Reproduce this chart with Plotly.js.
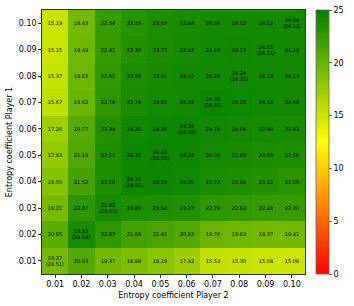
<!DOCTYPE html>
<html>
<head>
<meta charset="utf-8">
<script src="https://cdn.plot.ly/plotly-3.0.1.min.js"></script>
<style>html,body{margin:0;padding:0;background:#fff;}#chart{width:354px;height:306px;}</style>
</head>
<body>
<div id="chart"></div>
<script>
// Column categories (Entropy coefficient Player 2)
const player2 = ['0.01','0.02','0.03','0.04','0.05','0.06','0.07','0.08','0.09','0.10'];
// Row categories (Entropy coefficient Player 1), bottom to top
const player1 = ['0.01','0.02','0.03','0.04','0.05','0.06','0.07','0.08','0.09','0.10'];

// Mean values, one array per Player 1 row
const row001 = [19.27, 20.93, 19.37, 18.88, 18.18, 17.42, 15.53, 15.30, 15.08, 15.06];
const row002 = [20.65, 23.83, 22.87, 21.68, 21.41, 20.93, 19.76, 19.63, 19.37, 19.41];
const row003 = [19.21, 22.87, 23.92, 23.60, 23.54, 23.37, 22.78, 22.62, 22.40, 22.30];
const row004 = [18.50, 21.52, 23.58, 24.31, 24.35, 24.20, 23.72, 23.48, 23.22, 23.05];
const row005 = [17.83, 21.14, 23.51, 24.35, 24.42, 24.34, 24.03, 23.89, 23.69, 23.56];
const row006 = [17.26, 20.77, 23.34, 24.20, 24.35, 24.32, 24.18, 24.08, 23.90, 23.83];
const row007 = [15.67, 19.82, 22.76, 23.74, 24.05, 24.19, 24.30, 24.25, 24.16, 24.09];
const row008 = [15.37, 19.63, 22.65, 23.58, 23.91, 24.10, 24.24, 24.24, 24.19, 24.13];
const row009 = [15.15, 19.49, 22.41, 23.30, 23.72, 23.93, 24.15, 24.17, 24.15, 24.12];
const row010 = [15.19, 19.43, 22.34, 23.16, 23.60, 23.84, 24.08, 24.13, 24.12, 24.09];

// Best values shown in parentheses (null = none)
const best001 = [24.51, null, null, null, null, null, null, null, null, null];
const best002 = [null, 24.54, null, null, null, null, null, null, null, null];
const best003 = [null, null, 24.53, null, null, null, null, null, null, null];
const best004 = [null, null, null, 24.51, null, null, null, null, null, null];
const best005 = [null, null, null, null, 24.50, null, null, null, null, null];
const best006 = [null, null, null, null, null, 24.45, null, null, null, null];
const best007 = [null, null, null, null, null, null, 24.31, null, null, null];
const best008 = [null, null, null, null, null, null, null, 24.25, null, null];
const best009 = [null, null, null, null, null, null, null, null, 24.21, null];
const best010 = [null, null, null, null, null, null, null, null, null, 24.12];

const colorTicks = [0, 5, 10, 15, 20, 25];

const z = [row001,row002,row003,row004,row005,row006,row007,row008,row009,row010];
const best = [best001,best002,best003,best004,best005,best006,best007,best008,best009,best010];
const text = z.map((r,i)=>r.map((v,j)=>{
  const b = best[i][j];
  return b===null ? v.toFixed(2) : v.toFixed(2)+'<br>('+b.toFixed(2)+')';
}));

const font = 'DejaVu Sans, sans-serif';

const trace = {
  type: 'heatmap',
  x: player2, y: player1, z: z,
  text: text, texttemplate: '%{text}',
  textfont: {family: font, size: 5, color: '#000'},
  zmin: 0, zmax: 25,
  colorscale: [[0,'#ff0000'],[0.5,'#ffff00'],[1,'#008000']],
  xgap: 0, ygap: 0,
  hoverinfo: 'skip',
  colorbar: {
    x: 1.04, xanchor: 'left', xpad: 0, ypad: 0,
    y: 0.5, yanchor: 'middle', len: 1, lenmode: 'fraction',
    thickness: 13, outlinewidth: 0.8, outlinecolor: '#666',
    tickvals: colorTicks, ticks: 'outside', ticklen: 3, tickwidth: 0.8,
    tickfont: {family: font, size: 8, color: '#000'}
  }
};

const layout = {
  width: 354, height: 306,
  margin: {l: 42, r: 47, t: 10, b: 32},
  paper_bgcolor: '#fff', plot_bgcolor: '#fff',
  font: {family: font, color: '#000'},
  xaxis: {
    type: 'category', tickvals: player2, ticktext: player2,
    ticks: 'outside', ticklen: 3, tickwidth: 0.8, tickcolor: '#000',
    tickfont: {family: font, size: 8},
    showline: true, linecolor: '#000', linewidth: 0.8, mirror: true,
    showgrid: false, zeroline: false,
    title: {text: 'Entropy coefficient Player 2', font: {family: font, size: 8}, standoff: 3}
  },
  yaxis: {
    type: 'category', tickvals: player1, ticktext: player1,
    ticks: 'outside', ticklen: 3, tickwidth: 0.8, tickcolor: '#000',
    tickfont: {family: font, size: 8},
    showline: true, linecolor: '#000', linewidth: 0.8, mirror: true,
    showgrid: false, zeroline: false,
    title: {text: 'Entropy coefficient Player 1', font: {family: font, size: 8}, standoff: 4}
  }
};

Plotly.newPlot('chart', [trace], layout, {staticPlot: true, displayModeBar: false});
</script>
</body>
</html>
